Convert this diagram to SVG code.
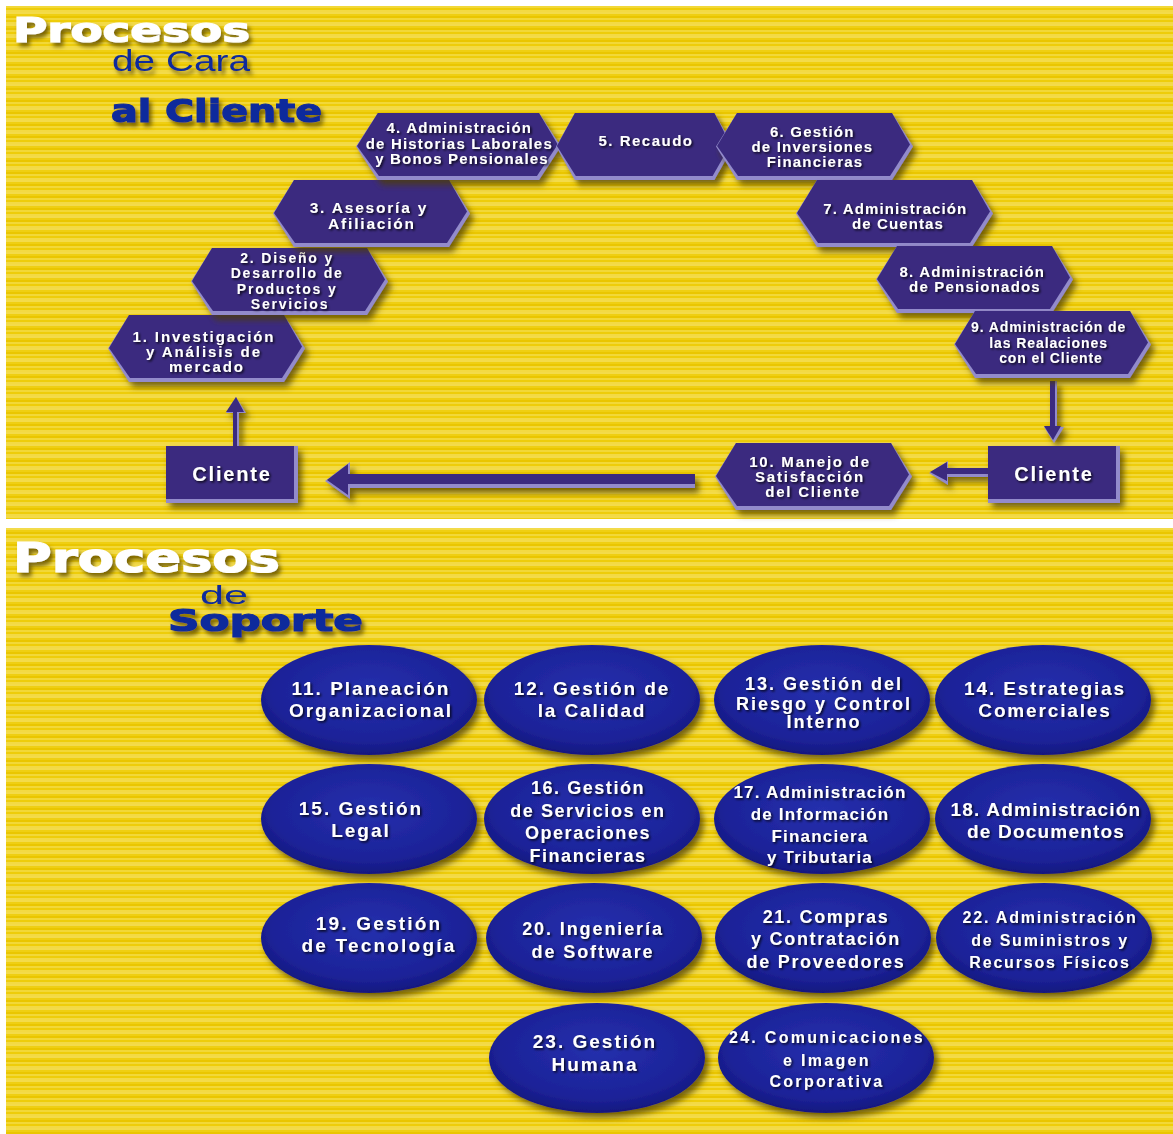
<svg xmlns="http://www.w3.org/2000/svg" xmlns:xlink="http://www.w3.org/1999/xlink" width="1173" height="1134" viewBox="0 0 1173 1134">
  <defs>
    <style>
      .face { fill: #3a2b7f; }
      .edge { fill: #938bcb; }
      .ht { font-family: "Liberation Sans", Arial, sans-serif; font-weight: bold; fill: #ffffff; text-anchor: middle; }
      .et { font-family: "Liberation Sans", Arial, sans-serif; font-weight: bold; fill: #ffffff; text-anchor: middle; }
      .oval { fill: url(#ovalFill); }
      .title { font-family: "DejaVu Sans", "Liberation Sans", sans-serif; font-weight: bold; }
      .white { fill: #ffffff; stroke: #ffffff; stroke-width: 1.2; }
      .blue { fill: #0b2b9c; }
      .blueHeavy { fill: #0b2b9c; stroke: #0b2b9c; stroke-width: 1.2; }
      .sub { font-family: "Liberation Sans", Arial, sans-serif; }
    </style>

    <!-- striped yellow backdrop -->
    <pattern id="stripes" patternUnits="userSpaceOnUse" width="40" height="12">
      <rect width="40" height="12" fill="#f0d21e"/>
      <rect y="0" width="40" height="2" fill="#f3db4a"/>
      <rect y="2" width="40" height="2" fill="#efcf12"/>
      <rect y="4" width="40" height="2" fill="#eac600"/>
      <rect y="6" width="40" height="2" fill="#f2d838"/>
      <rect y="8" width="40" height="2" fill="#eecd0a"/>
      <rect y="10" width="40" height="2" fill="#f3da44"/>
    </pattern>

    <radialGradient id="ovalFill" cx="50%" cy="42%" r="60%">
      <stop offset="0" stop-color="#2530ad"/>
      <stop offset="0.75" stop-color="#1c2298"/>
      <stop offset="1" stop-color="#12167a"/>
    </radialGradient>

    <filter id="shadow" x="-10%" y="-15%" width="125%" height="140%">
      <feGaussianBlur in="SourceAlpha" stdDeviation="3"/>
      <feOffset dx="4" dy="5" result="b"/>
      <feFlood flood-color="#4d3d00" flood-opacity="0.75"/>
      <feComposite in2="b" operator="in"/>
      <feMerge><feMergeNode/><feMergeNode in="SourceGraphic"/></feMerge>
    </filter>
    <filter id="tsh" x="-10%" y="-30%" width="120%" height="160%">
      <feDropShadow dx="1.5" dy="1.5" stdDeviation="0.8" flood-color="#000000" flood-opacity="0.85"/>
    </filter>
    <filter id="titsh" x="-10%" y="-30%" width="125%" height="170%">
      <feDropShadow dx="3" dy="4" stdDeviation="2.2" flood-color="#5b4a00" flood-opacity="0.8"/>
    </filter>

    <!-- bevelled hexagon, 197 x 67 -->
    <g id="hex">
      <polygon class="edge" points="0,33.5 21,0 176,0 197,33.5 176,67 21,67"/>
      <polygon class="face" points="1,33 21,0 176,0 194,31.5 174,63 22,63"/>
    </g>
    <!-- bevelled box, 132 x 57 -->
    <g id="box">
      <rect class="edge" width="132" height="57"/>
      <rect class="face" width="128" height="53"/>
    </g>
  </defs>

  <!-- panels -->
  <rect x="0" y="0" width="1173" height="1134" fill="#ffffff"/>
  <rect x="6" y="6" width="1167" height="513" fill="url(#stripes)"/>
  <rect x="6" y="528" width="1167" height="606" fill="url(#stripes)"/>

  <!-- headings -->
  <g id="heading-top" filter="url(#titsh)">
    <text class="title white" x="13" y="42" font-size="33" textLength="237" lengthAdjust="spacingAndGlyphs">Procesos</text>
    <text class="sub blue" x="112" y="71" font-size="30" textLength="138" lengthAdjust="spacingAndGlyphs">de Cara</text>
    <text class="title blueHeavy" x="111" y="122" font-size="32" textLength="211" lengthAdjust="spacingAndGlyphs">al Cliente</text>
  </g>
  <g id="heading-bottom" filter="url(#titsh)">
    <text class="title white" x="13" y="572" font-size="41" textLength="267" lengthAdjust="spacingAndGlyphs">Procesos</text>
    <text class="sub blue" x="200" y="604" font-size="26" textLength="48" lengthAdjust="spacingAndGlyphs">de</text>
    <text class="title blueHeavy" x="168" y="631" font-size="31" textLength="195" lengthAdjust="spacingAndGlyphs">Soporte</text>
  </g>

  <!-- connectors -->
  <g id="connectors" filter="url(#shadow)">
    <!-- Cliente (left) up to 1 -->
    <polygon class="edge" points="234,446 234,413 226,413 236,397 246,413 239,413 239,446"/>
    <polygon class="face" points="233,446 233,412 226,412 236,397 244,412 237,412 237,446"/>
    <!-- 9 down to Cliente (right) -->
    <polygon class="edge" points="1051,381 1057,381 1057,427 1064,427 1054,443 1044,427 1051,427"/>
    <polygon class="face" points="1050,381 1055,381 1055,426 1061,426 1053,440 1044,426 1050,426"/>
    <!-- Cliente (right) to 10 -->
    <polygon class="edge" points="988,469 988,477 948,477 948,485 929,473 948,461 948,469"/>
    <polygon class="face" points="988,468 988,474 947,474 947,481 930,472 947,462 947,468"/>
    <!-- 10 to Cliente (left) -->
    <polygon class="edge" points="695,474 695,488 350,488 350,499 325,481 350,462 350,474"/>
    <polygon class="face" points="695,474 695,484 348,484 348,495 327,480 348,464 348,474"/>
  </g>

  <!-- customer-facing processes -->
  <g id="cliente-left">
    <use href="#box" x="166" y="446" filter="url(#shadow)"/>
    <text class="ht" x="232" y="481" font-size="20" letter-spacing="1.8" filter="url(#tsh)">Cliente</text>
  </g>
  <g id="cliente-right">
    <use href="#box" x="988" y="446" filter="url(#shadow)"/>
    <text class="ht" x="1054" y="481" font-size="20" letter-spacing="1.8" filter="url(#tsh)">Cliente</text>
  </g>

  <g id="p1">
    <use href="#hex" x="108" y="315" filter="url(#shadow)"/>
    <text class="ht" font-size="15" letter-spacing="1.9" filter="url(#tsh)">
      <tspan x="207" y="342">1. Investigación</tspan>
      <tspan x="207" y="357">y Análisis de</tspan>
      <tspan x="207" y="372">mercado</tspan>
    </text>
  </g>
  <g id="p2">
    <use href="#hex" x="191" y="248" filter="url(#shadow)"/>
    <text class="ht" font-size="14" letter-spacing="1.8" filter="url(#tsh)">
      <tspan x="290" y="263">2. Diseño y</tspan>
      <tspan x="290" y="278">Desarrollo de</tspan>
      <tspan x="290" y="294">Productos y</tspan>
      <tspan x="290" y="309">Servicios</tspan>
    </text>
  </g>
  <g id="p3">
    <use href="#hex" x="273" y="180" filter="url(#shadow)"/>
    <text class="ht" font-size="15.5" letter-spacing="1.8" filter="url(#tsh)">
      <tspan x="372" y="213">3. Asesoría y</tspan>
      <tspan x="372" y="229">Afiliación</tspan>
    </text>
  </g>
  <g id="p4">
    <use href="#hex" transform="translate(356,113) scale(1.04,1)" filter="url(#shadow)"/>
    <text class="ht" font-size="15" letter-spacing="1.2" filter="url(#tsh)">
      <tspan x="462" y="133">4. Administración</tspan>
      <tspan x="462" y="149">de Historias Laborales</tspan>
      <tspan x="462" y="164">y Bonos Pensionales</tspan>
    </text>
  </g>
  <g id="p5">
    <use href="#hex" transform="translate(556,113) scale(0.9,1)" filter="url(#shadow)"/>
    <text class="ht" font-size="15" letter-spacing="1.5" filter="url(#tsh)">
      <tspan x="646" y="146">5. Recaudo</tspan>
    </text>
  </g>
  <g id="p6">
    <use href="#hex" x="716" y="113" filter="url(#shadow)"/>
    <text class="ht" font-size="15" letter-spacing="1.2" filter="url(#tsh)">
      <tspan x="815" y="137">6. Gestión</tspan>
      <tspan x="815" y="152">de Inversiones</tspan>
      <tspan x="815" y="167">Financieras</tspan>
    </text>
  </g>
  <g id="p7">
    <use href="#hex" x="796" y="180" filter="url(#shadow)"/>
    <text class="ht" font-size="15" letter-spacing="1.1" filter="url(#tsh)">
      <tspan x="898" y="214">7. Administración</tspan>
      <tspan x="898" y="229">de Cuentas</tspan>
    </text>
  </g>
  <g id="p8">
    <use href="#hex" x="876" y="246" filter="url(#shadow)"/>
    <text class="ht" font-size="15" letter-spacing="1.2" filter="url(#tsh)">
      <tspan x="975" y="277">8. Administración</tspan>
      <tspan x="975" y="292">de Pensionados</tspan>
    </text>
  </g>
  <g id="p9">
    <use href="#hex" x="954" y="311" filter="url(#shadow)"/>
    <text class="ht" font-size="14" letter-spacing="0.9" filter="url(#tsh)">
      <tspan x="1051" y="332">9. Administración de</tspan>
      <tspan x="1051" y="348">las Realaciones</tspan>
      <tspan x="1051" y="363">con el Cliente</tspan>
    </text>
  </g>
  <g id="p10">
    <use href="#hex" x="715" y="443" filter="url(#shadow)"/>
    <text class="ht" font-size="15" letter-spacing="1.8" filter="url(#tsh)">
      <tspan x="813" y="467">10. Manejo de</tspan>
      <tspan x="813" y="482">Satisfacción</tspan>
      <tspan x="813" y="497">del Cliente</tspan>
    </text>
  </g>

  <!-- support processes -->
  <g id="p11">
    <ellipse class="oval" cx="369" cy="700" rx="108" ry="55" filter="url(#shadow)"/>
    <text class="et" font-size="19" letter-spacing="2" filter="url(#tsh)"><tspan x="371" y="695">11. Planeación</tspan><tspan x="371" y="717">Organizacional</tspan></text>
  </g>
  <g id="p12">
    <ellipse class="oval" cx="592" cy="700" rx="108" ry="55" filter="url(#shadow)"/>
    <text class="et" font-size="19" letter-spacing="1.9" filter="url(#tsh)"><tspan x="592" y="695">12. Gestión de</tspan><tspan x="592" y="717">la Calidad</tspan></text>
  </g>
  <g id="p13">
    <ellipse class="oval" cx="822" cy="700" rx="108" ry="55" filter="url(#shadow)"/>
    <text class="et" font-size="18" letter-spacing="2" filter="url(#tsh)"><tspan x="824" y="690">13. Gestión del</tspan><tspan x="824" y="710">Riesgo y Control</tspan><tspan x="824" y="728">Interno</tspan></text>
  </g>
  <g id="p14">
    <ellipse class="oval" cx="1043" cy="700" rx="108" ry="55" filter="url(#shadow)"/>
    <text class="et" font-size="19" letter-spacing="1.85" filter="url(#tsh)"><tspan x="1045" y="695">14. Estrategias</tspan><tspan x="1045" y="717">Comerciales</tspan></text>
  </g>
  <g id="p15">
    <ellipse class="oval" cx="369" cy="819" rx="108" ry="55" filter="url(#shadow)"/>
    <text class="et" font-size="19" letter-spacing="2" filter="url(#tsh)"><tspan x="361" y="815">15. Gestión</tspan><tspan x="361" y="837">Legal</tspan></text>
  </g>
  <g id="p16">
    <ellipse class="oval" cx="592" cy="819" rx="108" ry="55" filter="url(#shadow)"/>
    <text class="et" font-size="18" letter-spacing="1.55" filter="url(#tsh)"><tspan x="588" y="794">16. Gestión</tspan><tspan x="588" y="817">de Servicios en</tspan><tspan x="588" y="839">Operaciones</tspan><tspan x="588" y="862">Financieras</tspan></text>
  </g>
  <g id="p17">
    <ellipse class="oval" cx="822" cy="819" rx="108" ry="55" filter="url(#shadow)"/>
    <text class="et" font-size="17" letter-spacing="1.2" filter="url(#tsh)"><tspan x="820" y="798">17. Administración</tspan><tspan x="820" y="820">de Información</tspan><tspan x="820" y="842">Financiera</tspan><tspan x="820" y="863">y Tributaria</tspan></text>
  </g>
  <g id="p18">
    <ellipse class="oval" cx="1043" cy="819" rx="108" ry="55" filter="url(#shadow)"/>
    <text class="et" font-size="19" letter-spacing="1.2" filter="url(#tsh)"><tspan x="1046" y="816">18. Administración</tspan><tspan x="1046" y="838">de Documentos</tspan></text>
  </g>
  <g id="p19">
    <ellipse class="oval" cx="369" cy="938" rx="108" ry="55" filter="url(#shadow)"/>
    <text class="et" font-size="19" letter-spacing="2.2" filter="url(#tsh)"><tspan x="379" y="930">19. Gestión</tspan><tspan x="379" y="952">de Tecnología</tspan></text>
  </g>
  <g id="p20">
    <ellipse class="oval" cx="594" cy="938" rx="108" ry="55" filter="url(#shadow)"/>
    <text class="et" font-size="18" letter-spacing="1.9" filter="url(#tsh)"><tspan x="593" y="935">20. Ingeniería</tspan><tspan x="593" y="958">de Software</tspan></text>
  </g>
  <g id="p21">
    <ellipse class="oval" cx="823" cy="938" rx="108" ry="55" filter="url(#shadow)"/>
    <text class="et" font-size="18" letter-spacing="1.7" filter="url(#tsh)"><tspan x="826" y="923">21. Compras</tspan><tspan x="826" y="945">y Contratación</tspan><tspan x="826" y="968">de Proveedores</tspan></text>
  </g>
  <g id="p22">
    <ellipse class="oval" cx="1044" cy="938" rx="108" ry="55" filter="url(#shadow)"/>
    <text class="et" font-size="16" letter-spacing="1.8" filter="url(#tsh)"><tspan x="1050" y="923">22. Administración</tspan><tspan x="1050" y="946">de Suministros y</tspan><tspan x="1050" y="968">Recursos Físicos</tspan></text>
  </g>
  <g id="p23">
    <ellipse class="oval" cx="597" cy="1058" rx="108" ry="55" filter="url(#shadow)"/>
    <text class="et" font-size="19" letter-spacing="2" filter="url(#tsh)"><tspan x="595" y="1048">23. Gestión</tspan><tspan x="595" y="1071">Humana</tspan></text>
  </g>
  <g id="p24">
    <ellipse class="oval" cx="826" cy="1058" rx="108" ry="55" filter="url(#shadow)"/>
    <text class="et" font-size="16" letter-spacing="2.3" filter="url(#tsh)"><tspan x="827" y="1043">24. Comunicaciones</tspan><tspan x="827" y="1066">e Imagen</tspan><tspan x="827" y="1087">Corporativa</tspan></text>
  </g>
</svg>
